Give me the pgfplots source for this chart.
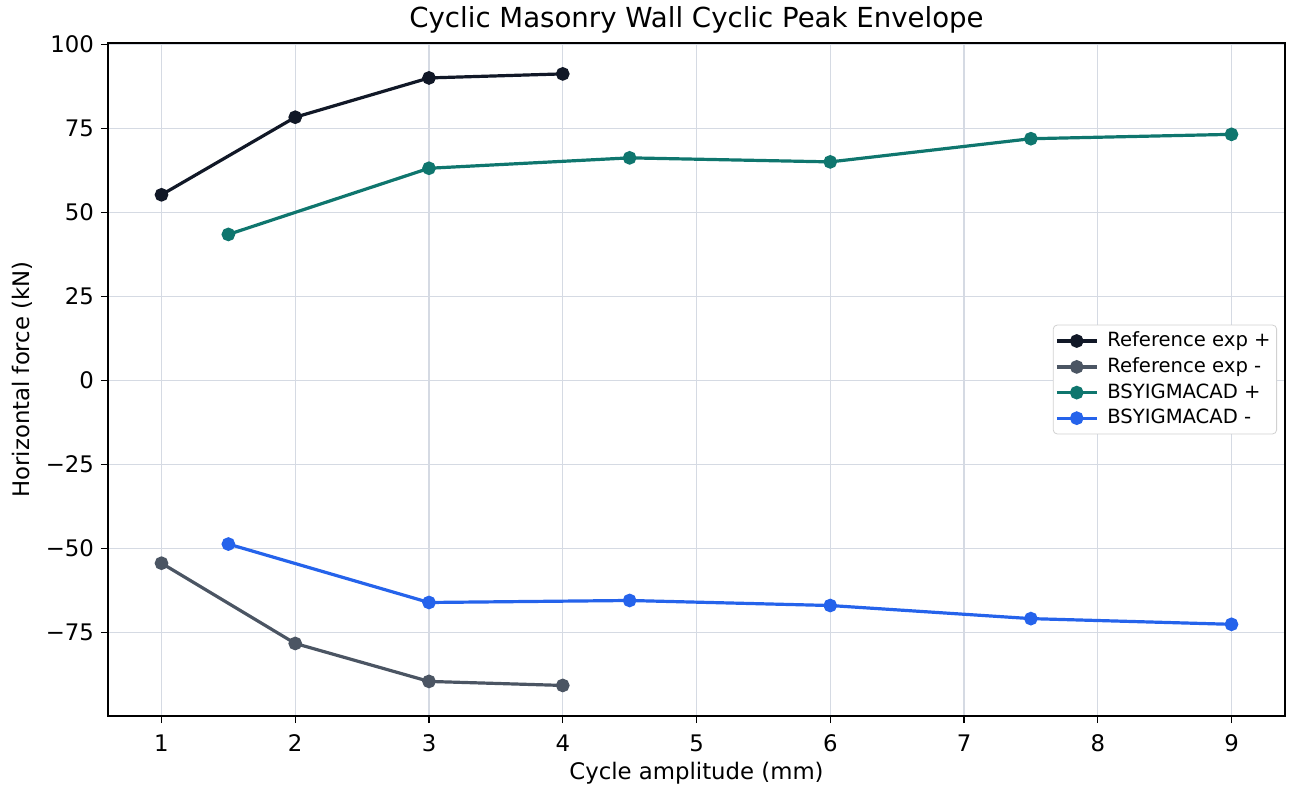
\documentclass[border=0pt]{standalone}
\usepackage{fontspec}
\setmainfont{DejaVu Sans}
\usepackage{pgfplots}
\pgfplotsset{compat=1.18}
\definecolor{refpos}{HTML}{111827}
\definecolor{refneg}{HTML}{4B5563}
\definecolor{bsypos}{HTML}{0F766E}
\definecolor{bsyneg}{HTML}{2563EB}
\definecolor{gridc}{HTML}{D5DAE3}

\begin{document}
\begin{tikzpicture}
\begin{axis}[
    name=ax,
    scale only axis,
    width=588.5pt,
    height=336.5pt,
    xmin=0.6, xmax=9.4,
    ymin=-99.9, ymax=100.5,
    xtick={1,2,...,9},
    ytick={-75,-50,-25,0,25,50,75,100},
    yticklabels={−75,−50,−25,0,25,50,75,100},
    tick align=outside,
    tick pos=left,
    major tick length=3.5pt,
    tick style={black, line width=0.6pt},
    axis line style={black, line width=0.6pt},
    grid=major,
    grid style={gridc, line width=0.6pt},
    tick label style={font=\fontsize{11.4}{13}\selectfont},
    xticklabel style={yshift=-2.5pt},
    label style={font=\fontsize{11.4}{13}\selectfont},
    /pgf/number format/assume math mode=true,
    every axis title shift=0pt,
    title={Cyclic Masonry Wall Cyclic Peak Envelope},
    title style={at={(axis description cs:0.5,1.034)}, anchor=center, font=\fontsize{13.8}{16}\selectfont},
    xlabel={Cycle amplitude (mm)},
    ylabel={Horizontal force (kN)},
    xlabel style={at={(axis description cs:0.5,-0.0847)}, anchor=center},
    ylabel style={at={(axis description cs:-0.073,0.5)}, anchor=center},
    legend style={at={(1,0.5)}, anchor=east, xshift=-4pt, draw=black!18, rounded corners=2pt,
        font=\fontsize{9.8}{11.5}\selectfont, row sep=0pt, column sep=2.5pt,
        inner xsep=1pt, inner ysep=1.5pt,
        nodes={inner sep=2pt}},
    legend cell align=left,
    legend image code/.code={
        \draw[mark repeat=2,mark phase=2] plot coordinates {(0cm,0cm) (0.35cm,0cm) (0.7cm,0cm)};
    },
    every axis plot/.append style={line width=1.6pt, mark=*, mark size=2.6pt},
]
\addplot[refpos, mark options={fill=refpos}] coordinates {
    (1,55.3) (2,78.4) (3,90.1) (4,91.3)
};
\addlegendentry{Reference exp +}
\addplot[refneg, mark options={fill=refneg}] coordinates {
    (1,-54.4) (2,-78.3) (3,-89.6) (4,-90.8)
};
\addlegendentry{Reference exp -}
\addplot[bsypos, mark options={fill=bsypos}] coordinates {
    (1.5,43.5) (3,63.2) (4.5,66.3) (6,65.1) (7.5,72.0) (9,73.3)
};
\addlegendentry{BSYIGMACAD +}
\addplot[bsyneg, mark options={fill=bsyneg}] coordinates {
    (1.5,-48.7) (3,-66.1) (4.5,-65.5) (6,-67.0) (7.5,-70.9) (9,-72.6)
};
\addlegendentry{BSYIGMACAD -}
\end{axis}
\pgfresetboundingbox
\path[use as bounding box] ([xshift=-54pt,yshift=-39pt]ax.south west) rectangle ([xshift=2pt,yshift=21.5pt]ax.north east);
\end{tikzpicture}
\end{document}
